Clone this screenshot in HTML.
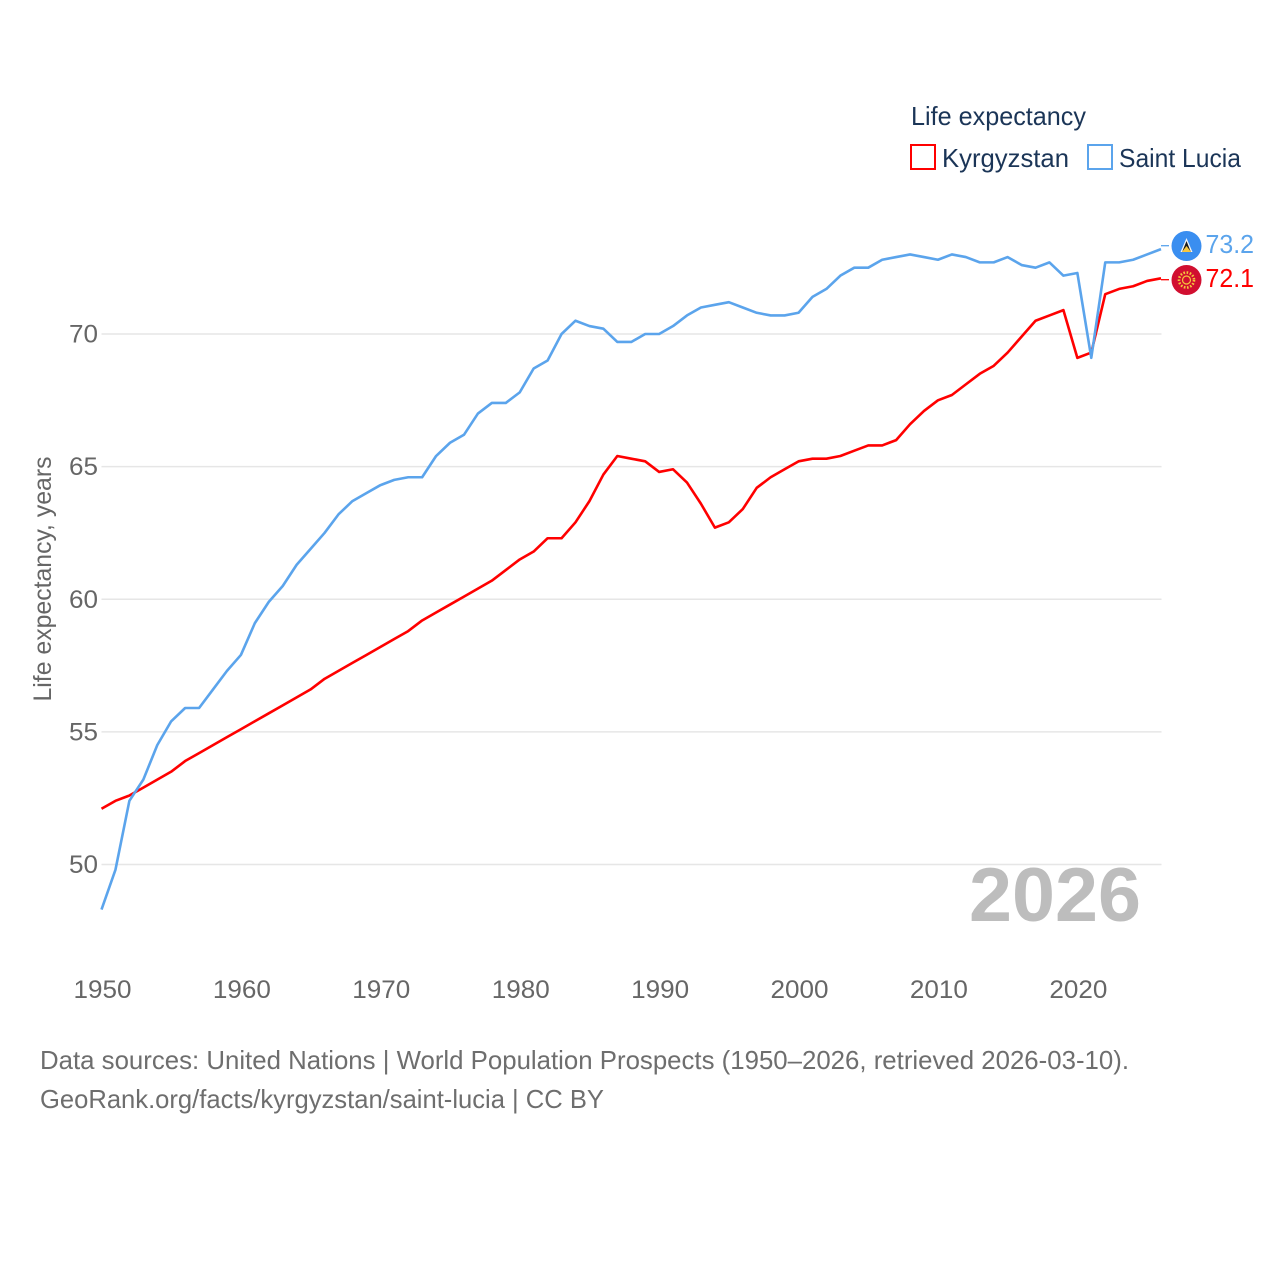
<!DOCTYPE html>
<html lang="en">
<head>
<meta charset="utf-8">
<title>Life expectancy: Kyrgyzstan and Saint Lucia</title>
<style>
html,body{margin:0;padding:0;background:#fff;width:1280px;height:1280px;overflow:hidden}
svg{display:block}
text{font-family:"Liberation Sans",sans-serif}
</style>
</head>
<body>
<svg id="chart" xmlns="http://www.w3.org/2000/svg" width="1280" height="1280" viewBox="0 0 1280 1280">
  <rect x="0" y="0" width="1280" height="1280" fill="#fff"/>
  <g id="grid"></g>
  <g id="yticks"></g>
  <g id="xticks"></g>
  <text transform="translate(51,579) rotate(-90)" text-anchor="middle" font-size="25" fill="#666" textLength="245" lengthAdjust="spacingAndGlyphs">Life expectancy, years</text>
  <text x="1141" y="921" text-anchor="end" font-size="76" font-weight="700" fill="#bdbdbd" textLength="172" lengthAdjust="spacingAndGlyphs">2026</text>
  <g id="series"></g>

  <g>
    <text x="911" y="125" font-size="26" fill="#1b3557" textLength="175" lengthAdjust="spacingAndGlyphs">Life expectancy</text>
    <rect x="911" y="145" width="24" height="24" fill="#fff" stroke="#ff0000" stroke-width="2"/>
    <text x="942" y="167" font-size="26" fill="#1b3557" textLength="127" lengthAdjust="spacingAndGlyphs">Kyrgyzstan</text>
    <rect x="1088" y="145" width="24" height="24" fill="#fff" stroke="#5ba4ec" stroke-width="2"/>
    <text x="1119" y="167" font-size="26" fill="#1b3557" textLength="122" lengthAdjust="spacingAndGlyphs">Saint Lucia</text>
  </g>

  <g>
    <circle cx="1186.5" cy="246" r="15" fill="#3a8ef0"/>
    <polygon points="1186.5,238 1192.5,252 1180.5,252" fill="#f5f5f5"/>
    <polygon points="1186.5,241 1190.9,252 1182.1,252" fill="#1b1b1b"/>
    <polygon points="1186.5,246 1191.1,252 1181.9,252" fill="#f8c73e"/>
  </g>
  <g>
    <circle cx="1186.5" cy="280" r="15" fill="#d10f30"/>
    <circle cx="1186.5" cy="280" r="7.5" fill="none" stroke="#f5c63c" stroke-width="2.6" stroke-dasharray="1.6 1.6"/>
    <circle cx="1186.5" cy="280" r="4" fill="none" stroke="#f5c63c" stroke-width="1.2"/>
  </g>

  <text x="1205.5" y="253" font-size="26" fill="#5ba4ec" textLength="48.5" lengthAdjust="spacingAndGlyphs">73.2</text>
  <text x="1205.5" y="287" font-size="26" fill="#ff0000" textLength="48.5" lengthAdjust="spacingAndGlyphs">72.1</text>

  <text x="40" y="1069" font-size="26" fill="#6e6e6e" textLength="1089" lengthAdjust="spacingAndGlyphs">Data sources: United Nations | World Population Prospects (1950–2026, retrieved 2026-03-10).</text>
  <text x="40" y="1108" font-size="26" fill="#6e6e6e" textLength="564" lengthAdjust="spacingAndGlyphs">GeoRank.org/facts/kyrgyzstan/saint-lucia | CC BY</text>
</svg>
<script>
const years = [1950,1951,1952,1953,1954,1955,1956,1957,1958,1959,1960,1961,1962,1963,1964,1965,1966,1967,1968,1969,1970,1971,1972,1973,1974,1975,1976,1977,1978,1979,1980,1981,1982,1983,1984,1985,1986,1987,1988,1989,1990,1991,1992,1993,1994,1995,1996,1997,1998,1999,2000,2001,2002,2003,2004,2005,2006,2007,2008,2009,2010,2011,2012,2013,2014,2015,2016,2017,2018,2019,2020,2021,2022,2023,2024,2025,2026];
const kyrgyzstan = [52.1,52.4,52.6,52.9,53.2,53.5,53.9,54.2,54.5,54.8,55.1,55.4,55.7,56.0,56.3,56.6,57.0,57.3,57.6,57.9,58.2,58.5,58.8,59.2,59.5,59.8,60.1,60.4,60.7,61.1,61.5,61.8,62.3,62.3,62.9,63.7,64.7,65.4,65.3,65.2,64.8,64.9,64.4,63.6,62.7,62.9,63.4,64.2,64.6,64.9,65.2,65.3,65.3,65.4,65.6,65.8,65.8,66.0,66.6,67.1,67.5,67.7,68.1,68.5,68.8,69.3,69.9,70.5,70.7,70.9,69.1,69.3,71.5,71.7,71.8,72.0,72.1];
const saintLucia = [48.3,49.8,52.4,53.2,54.5,55.4,55.9,55.9,56.6,57.3,57.9,59.1,59.9,60.5,61.3,61.9,62.5,63.2,63.7,64.0,64.3,64.5,64.6,64.6,65.4,65.9,66.2,67.0,67.4,67.4,67.8,68.7,69.0,70.0,70.5,70.3,70.2,69.7,69.7,70.0,70.0,70.3,70.7,71.0,71.1,71.2,71.0,70.8,70.7,70.7,70.8,71.4,71.7,72.2,72.5,72.5,72.8,72.9,73.0,72.9,72.8,73.0,72.9,72.7,72.7,72.9,72.6,72.5,72.7,72.2,72.3,69.1,72.7,72.7,72.8,73.0,73.2];
const yTickValues = [50,55,60,65,70];
const xTickValues = [1950,1960,1970,1980,1990,2000,2010,2020];

const NS = 'http://www.w3.org/2000/svg';
const xScale = function (year) { return 101.5 + (year - 1950) * (1161 - 101.5) / 76; };
const yScale = function (value) { return 864.5 - (value - 50) * (864.5 - 334) / 20; };
const make = function (parent, tag) {
  const el = document.createElementNS(NS, tag);
  parent.appendChild(el);
  return el;
};

const gridGroup = document.getElementById('grid');
const yTickGroup = document.getElementById('yticks');
const xTickGroup = document.getElementById('xticks');
const seriesGroup = document.getElementById('series');

yTickValues.forEach(function (v) {
  const line = make(gridGroup, 'line');
  
  
  line.setAttribute('x1', 101.5);
  line.setAttribute('x2', 1161.5);
  line.setAttribute('y1', yScale(v));
  line.setAttribute('y2', yScale(v));
  line.setAttribute('stroke', '#e6e6e6');
  line.setAttribute('stroke-width', 1.4);
  const label = make(yTickGroup, 'text');
  
  
  label.setAttribute('x', 98);
  label.setAttribute('y', yScale(v) + 8.5);
  label.setAttribute('text-anchor', 'end');
  label.setAttribute('font-size', 25);
  label.setAttribute('fill', '#666');
  label.setAttribute('textLength', 29);
  label.setAttribute('lengthAdjust', 'spacingAndGlyphs');
  label.textContent = String(v);
});

xTickValues.forEach(function (v) {
  const label = make(xTickGroup, 'text');
  
  
  label.setAttribute('x', xScale(v) + 1);
  label.setAttribute('y', 998);
  label.setAttribute('text-anchor', 'middle');
  label.setAttribute('font-size', 25);
  label.setAttribute('fill', '#666');
  label.setAttribute('textLength', 58);
  label.setAttribute('lengthAdjust', 'spacingAndGlyphs');
  label.textContent = String(v);
});

const pathFor = function (values) {
  return values.map(function (v, i) {
    return (i ? 'L' : 'M') + xScale(years[i]).toFixed(2) + ' ' + yScale(v).toFixed(2);
  }).join(' ');
};

const redLine = make(seriesGroup, 'path');


redLine.setAttribute('d', pathFor(kyrgyzstan));
redLine.setAttribute('fill', 'none');
redLine.setAttribute('stroke', '#ff0000');
redLine.setAttribute('stroke-width', 2.6);
redLine.setAttribute('stroke-linejoin', 'round');

const blueLine = make(seriesGroup, 'path');


blueLine.setAttribute('d', pathFor(saintLucia));
blueLine.setAttribute('fill', 'none');
blueLine.setAttribute('stroke', '#5ba4ec');
blueLine.setAttribute('stroke-width', 2.6);
blueLine.setAttribute('stroke-linejoin', 'round');

const redConnector = make(seriesGroup, 'line');


redConnector.setAttribute('x1', 1161);
redConnector.setAttribute('x2', 1169);
redConnector.setAttribute('y1', 279.7);
redConnector.setAttribute('y2', 279.7);
redConnector.setAttribute('stroke', '#ff0000');
redConnector.setAttribute('stroke-width', 1.3);

const blueConnector = make(seriesGroup, 'line');


blueConnector.setAttribute('x1', 1161);
blueConnector.setAttribute('x2', 1169);
blueConnector.setAttribute('y1', 245.7);
blueConnector.setAttribute('y2', 245.7);
blueConnector.setAttribute('stroke', '#5ba4ec');
blueConnector.setAttribute('stroke-width', 1.3);
</script>
</body>
</html>
